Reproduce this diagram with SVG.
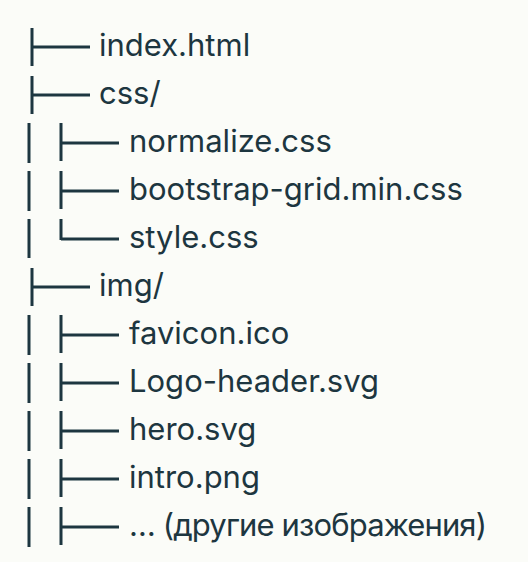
<svg xmlns="http://www.w3.org/2000/svg" width="528" height="562" viewBox="0 0 528 562">
<style>
.t{font-family:Inter,"Noto Sans","Liberation Sans",sans-serif;font-size:31px;fill:#1d3640}
.c{stroke:#1d3640;stroke-width:3;fill:none}
</style>
<rect width="528" height="562" fill="#fbfcf8"/>
<g id="connectors" class="c">
<path d="M32 28V66M32 47H90"/>
<path d="M32 76V114M32 95H90"/>
<path d="M29 123V163M61 123V161M61 143H119"/>
<path d="M29 171V211M61 171V209M61 191H119"/>
<path d="M29 219V258M61 219V240M61 239H119"/>
<path d="M32 268V306M32 287H90"/>
<path d="M29 315V355M61 315V353M61 335H119"/>
<path d="M29 363V403M61 363V401M61 383H119"/>
<path d="M29 411V451M61 411V449M61 431H119"/>
<path d="M29 459V499M61 459V497M61 479H119"/>
<path d="M29 507V547M61 507V545M61 527H119"/>
</g>
<g id="n1"><text class="t" x="99" y="56">index.html</text></g>
<g id="n2"><text class="t" x="99" y="104">css/</text></g>
<g id="n3"><text class="t" x="129" y="152">normalize.css</text></g>
<g id="n4"><text class="t" x="129" y="200">bootstrap-grid.min.css</text></g>
<g id="n5"><text class="t" x="129" y="248">style.css</text></g>
<g id="n6"><text class="t" x="99" y="296">img/</text></g>
<g id="n7"><text class="t" x="129" y="344">favicon.ico</text></g>
<g id="n8"><text class="t" x="129" y="392">Logo-header.svg</text></g>
<g id="n9"><text class="t" x="129" y="440">hero.svg</text></g>
<g id="n10"><text class="t" x="129" y="488">intro.png</text></g>
<g id="n11"><text class="t" x="129" y="536" textLength="358">… (другие изображения)</text></g>
</svg>
